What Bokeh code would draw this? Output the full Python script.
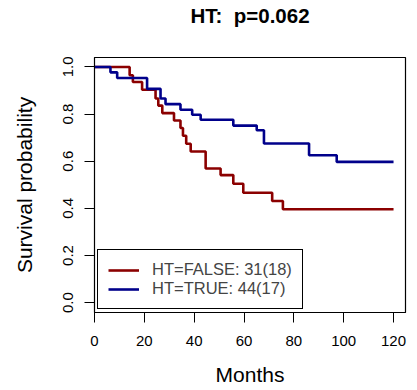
from bokeh.plotting import figure
from bokeh.models import Range1d, FixedTicker, Legend, LegendItem, Title
from bokeh.embed import file_html
from bokeh.resources import INLINE

# Kaplan-Meier step data (months, survival probability)
false_times = [0, 14.1, 15.4, 19.1, 24.5, 25.6, 27.2, 31.9, 34.5, 35.5, 36.8, 38.6,
               44.6, 50.6, 55.7, 59.7, 71.3, 75.6, 120]
false_surv = [1.0, 0.965, 0.936, 0.903, 0.866, 0.836, 0.804, 0.773, 0.741, 0.708, 0.674,
              0.641, 0.569, 0.541, 0.504, 0.466, 0.431, 0.396, 0.396]
true_times = [0, 6.4, 9.1, 21.1, 26.5, 28.5, 34.5, 39.2, 42.6, 55.7, 65.1, 68.0, 86.1,
              97.2, 120]
true_surv = [1.0, 0.977, 0.953, 0.907, 0.866, 0.842, 0.818, 0.797, 0.776, 0.751, 0.731,
             0.675, 0.625, 0.597, 0.597]
legend_labels = ["HT=FALSE: 31(18)", "HT=TRUE: 44(17)"]
x_ticks = [0, 20, 40, 60, 80, 100, 120]
y_ticks = [0.0, 0.2, 0.4, 0.6, 0.8, 1.0]
title_text = "HT:\u00a0 p=0.062"

FONT = "Liberation Sans"

p = figure(width=417, height=390, output_backend="svg", toolbar_location=None,
           x_range=Range1d(0, 124.8), y_range=Range1d(-0.042, 1.04),
           min_border_left=94, min_border_right=12, min_border_top=56,
           min_border_bottom=78)
# real title outermost, blank spacer title next to the frame
p.title = Title(text=title_text, align="center", text_font=FONT,
                text_font_size="20.5px", text_font_style="bold", text_color="black",
                standoff=2)
p.add_layout(Title(text="\u00a0", text_font=FONT, text_font_size="16px", standoff=11),
             "above")
p.background_fill_color = "white"
p.border_fill_color = "white"
p.grid.visible = False
p.outline_line_color = "black"
p.outline_line_alpha = 1.0
p.outline_line_width = 1.2

r_false = p.step(false_times, false_surv, mode="after", line_color="#8B0000", line_width=2.6)
r_true = p.step(true_times, true_surv, mode="after", line_color="#00008B", line_width=2.6)

for ax in (p.xaxis[0], p.yaxis[0]):
    ax.axis_line_color = "black"
    ax.major_tick_line_color = "black"
    ax.minor_tick_line_color = None
    ax.major_tick_in = 0
    ax.major_tick_out = 10
    ax.major_label_text_font = FONT
    ax.major_label_text_font_size = "15px"
    ax.major_label_text_color = "black"
    ax.axis_label_text_font = FONT
    ax.axis_label_text_font_size = "21px"
    ax.axis_label_text_font_style = "normal"
    ax.axis_label_text_color = "black"

p.xaxis.ticker = FixedTicker(ticks=x_ticks)
p.yaxis.ticker = FixedTicker(ticks=y_ticks)
p.yaxis.major_label_overrides = {t: f"{t:.1f}" for t in y_ticks}
p.yaxis.major_label_orientation = "vertical"
p.xaxis.axis_label = "Months"
p.yaxis.axis_label = "Survival probability"
p.xaxis.major_label_standoff = 13
p.yaxis.major_label_standoff = 11
p.xaxis.axis_label_standoff = 14
p.yaxis.axis_label_standoff = 25

legend = Legend(items=[LegendItem(label=legend_labels[0], renderers=[r_false]),
                       LegendItem(label=legend_labels[1], renderers=[r_true])],
                location=(3, 3), padding=10, spacing=0, margin=0,
                glyph_width=31, glyph_height=18, label_height=18, label_standoff=13,
                label_text_font=FONT, label_text_font_size="16.5px",
                border_line_color="black", border_line_alpha=1.0, border_line_width=1,
                background_fill_color="white", background_fill_alpha=1.0)
p.add_layout(legend, "center")

open("out.html", "w").write(file_html(p, INLINE))
